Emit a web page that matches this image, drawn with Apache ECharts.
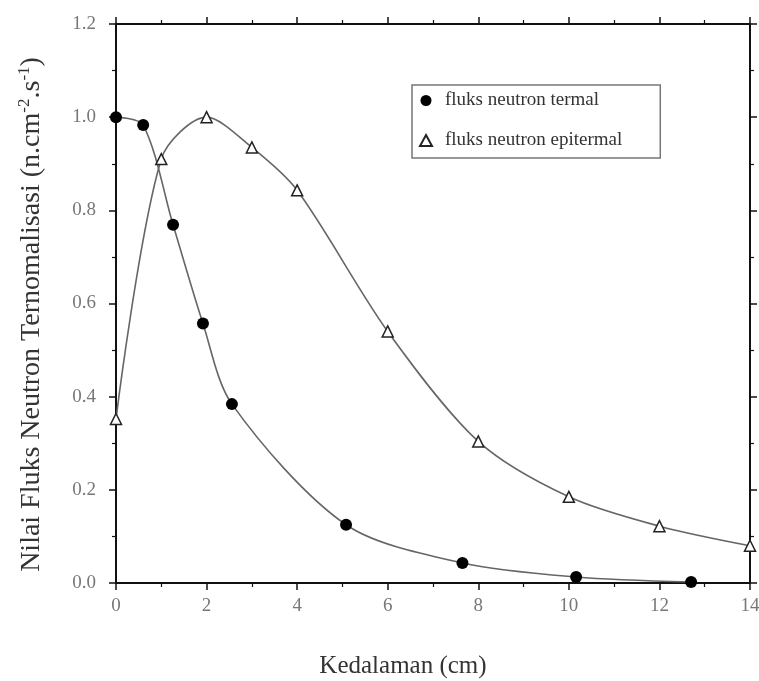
<!DOCTYPE html>
<html>
<head>
<meta charset="utf-8">
<script src="https://cdn.jsdelivr.net/npm/echarts@6/dist/echarts.min.js"></script>
<style>
html,body{margin:0;padding:0;background:#fff;}
#chart{width:759px;height:681px;}
</style>
</head>
<body>
<div id="chart"></div>
<script>
// Data
const thermalX = [0, 0.6, 1.26, 1.92, 2.56, 5.08, 7.65, 10.16, 12.7];
const thermalY = [1.0, 0.983, 0.769, 0.557, 0.384, 0.125, 0.043, 0.013, 0.002];
const epiX = [0, 1, 2, 3, 4, 6, 8, 10, 12, 14];
const epiY = [0.352, 0.91, 1.0, 0.935, 0.843, 0.54, 0.304, 0.185, 0.122, 0.08];
const seriesNames = ['fluks neutron termal', 'fluks neutron epitermal'];
const xTitle = 'Kedalaman (cm)';
const yTitle = 'Nilai Fluks Neutron Ternomalisasi (n.cm{sup|-2}.s{sup|-1})';

const FONT = 'Liberation Serif';
const chart = echarts.init(document.getElementById('chart'));

const axisLine = {show: true, onZero: false, lineStyle: {color: '#111', width: 2}};
const tick = {show: true, inside: false, length: 7, lineStyle: {color: '#111', width: 1.5}};
const minor = {show: true, splitNumber: 2, length: 4, lineStyle: {color: '#111', width: 1.2}};
const labelStyle = {fontFamily: FONT, fontSize: 19, color: '#777'};

function pairs(xs, ys) { return xs.map((x, i) => [x, ys[i]]); }

chart.setOption({
  animation: false,
  backgroundColor: '#fff',
  grid: {left: 116, right: 9, top: 24, bottom: 98, containLabel: false, outerBoundsMode: 'none'},
  legend: {
    left: 412, top: 85,
    orient: 'vertical',
    backgroundColor: '#fff',
    borderColor: '#777', borderWidth: 1.5,
    padding: [6, 38, 8, 7],
    itemGap: 21,
    itemWidth: 12, itemHeight: 11,
    textStyle: {fontFamily: FONT, fontSize: 19, color: '#333', padding: [0, 0, 0, 8]},
    data: [
      {name: seriesNames[0], icon: 'circle'},
      {name: seriesNames[1], icon: 'triangle'}
    ]
  },
  xAxis: [{
    type: 'value', min: 0, max: 14, interval: 2,
    axisLine: axisLine, axisTick: tick, minorTick: minor,
    splitLine: {show: false}, minorSplitLine: {show: false},
    axisLabel: Object.assign({margin: 14}, labelStyle),
    name: xTitle, nameLocation: 'middle', nameGap: 71,
    nameTextStyle: {fontFamily: FONT, fontSize: 25, color: '#333', padding: [0, 60, 0, 0]}
  }, {
    type: 'value', min: 0, max: 14, interval: 2, position: 'top',
    axisLine: axisLine, axisTick: tick, minorTick: minor,
    splitLine: {show: false}, axisLabel: {show: false}
  }],
  yAxis: [{
    type: 'value', min: 0, max: 1.2, interval: 0.2,
    axisLine: axisLine, axisTick: tick, minorTick: minor,
    splitLine: {show: false}, minorSplitLine: {show: false},
    axisLabel: Object.assign({margin: 20, formatter: v => v.toFixed(1)}, labelStyle),
    name: yTitle, nameLocation: 'middle', nameGap: 68,
    nameTextStyle: {
      fontFamily: FONT, fontSize: 28, color: '#333', lineHeight: 32,
      padding: [0, 22, 0, 0],
      rich: {sup: {fontFamily: FONT, fontSize: 17, color: '#333', verticalAlign: 'top', lineHeight: 18}}
    }
  }, {
    type: 'value', min: 0, max: 1.2, interval: 0.2, position: 'right',
    axisLine: axisLine, axisTick: tick, minorTick: minor,
    splitLine: {show: false}, axisLabel: {show: false}
  }],
  series: [{
    name: seriesNames[0], type: 'line', xAxisIndex: 0, yAxisIndex: 0,
    data: pairs(thermalX, thermalY),
    smooth: 0.3,
    symbol: 'circle', symbolSize: 12,
    lineStyle: {color: '#666', width: 1.6},
    itemStyle: {color: '#000', borderColor: '#000', borderWidth: 0},
    z: 3
  }, {
    name: seriesNames[1], type: 'line', xAxisIndex: 0, yAxisIndex: 0,
    data: pairs(epiX, epiY),
    smooth: 0.3,
    symbol: 'triangle', symbolSize: 11,
    lineStyle: {color: '#666', width: 1.6},
    itemStyle: {color: '#fff', borderColor: '#222', borderWidth: 1.5},
    z: 3
  }]
});
</script>
</body>
</html>
